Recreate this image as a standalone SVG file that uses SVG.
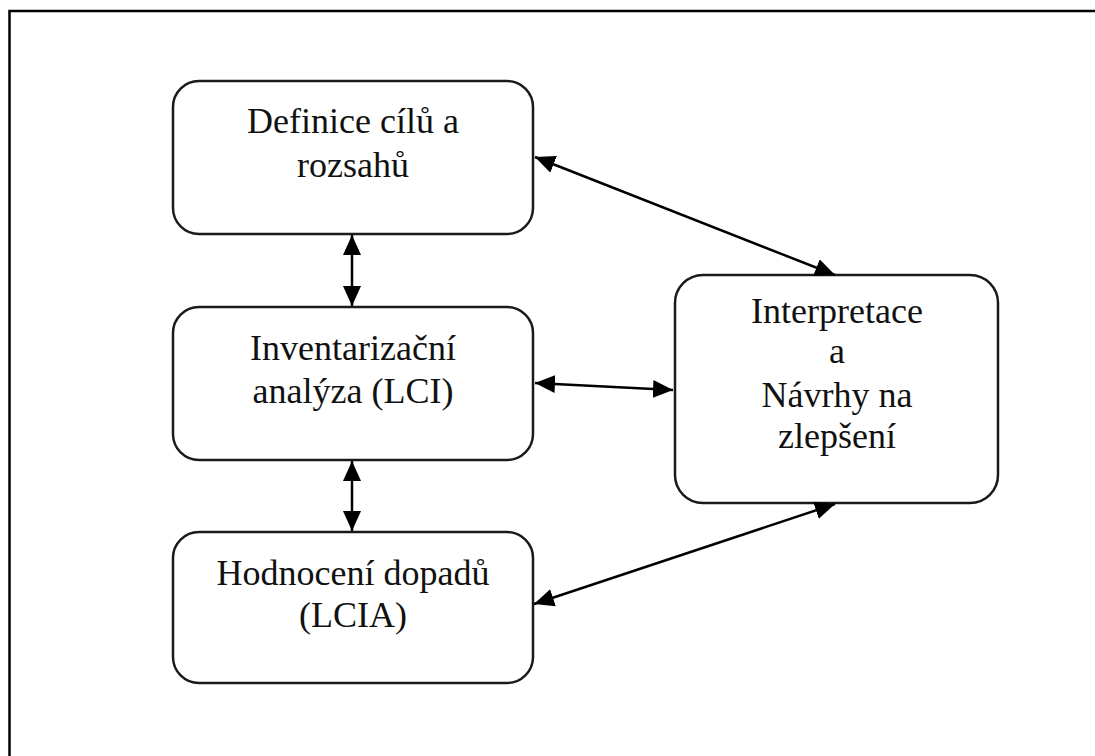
<svg xmlns="http://www.w3.org/2000/svg" width="1095" height="756" viewBox="0 0 1095 756">
<style>
.box{fill:#fff;stroke:#1a1a1a;stroke-width:2.5}
.lbl{font-family:"Liberation Serif","Times New Roman",serif;font-size:36px;fill:#111;text-anchor:middle}
.con{stroke:#000;stroke-width:2.5;fill:none;marker-start:url(#ah);marker-end:url(#ah)}
</style>
<defs>
<marker id="ah" viewBox="0 0 20 18" refX="20" refY="9" markerWidth="20" markerHeight="18" markerUnits="userSpaceOnUse" orient="auto-start-reverse">
<path d="M0 0 L20 9 L0 18 Z" fill="#000"/>
</marker>
</defs>
<rect width="1095" height="756" fill="#fff"/>
<path d="M9.5 756 V11 H1095" fill="none" stroke="#000" stroke-width="2.5"/>
<g id="n1"><rect class="box" x="173" y="81" width="360" height="153" rx="26"/>
<text class="lbl" x="353" y="133">Definice cílů a</text>
<text class="lbl" x="353" y="177">rozsahů</text></g>
<g id="n2"><rect class="box" x="173" y="307" width="360" height="153" rx="26"/>
<text class="lbl" x="353" y="360">Inventarizační</text>
<text class="lbl" x="353" y="403">analýza (LCI)</text></g>
<g id="n3"><rect class="box" x="173" y="532" width="360" height="151" rx="26"/>
<text class="lbl" x="353" y="585">Hodnocení dopadů</text>
<text class="lbl" x="353" y="627">(LCIA)</text></g>
<g id="n4"><rect class="box" x="675" y="275" width="323" height="228" rx="28"/>
<text class="lbl" x="837" y="323">Interpretace</text>
<text class="lbl" x="837" y="363">a</text>
<text class="lbl" x="837" y="407">Návrhy na</text>
<text class="lbl" x="837" y="448">zlepšení</text></g>
<g id="connectors">
<line class="con" x1="352" y1="235" x2="352" y2="306"/>
<line class="con" x1="352" y1="461" x2="352" y2="531"/>
<line class="con" x1="535" y1="383" x2="673" y2="390"/>
<line class="con" x1="535" y1="157" x2="835" y2="275"/>
<line class="con" x1="534" y1="604" x2="835" y2="504"/>
</g>
</svg>
